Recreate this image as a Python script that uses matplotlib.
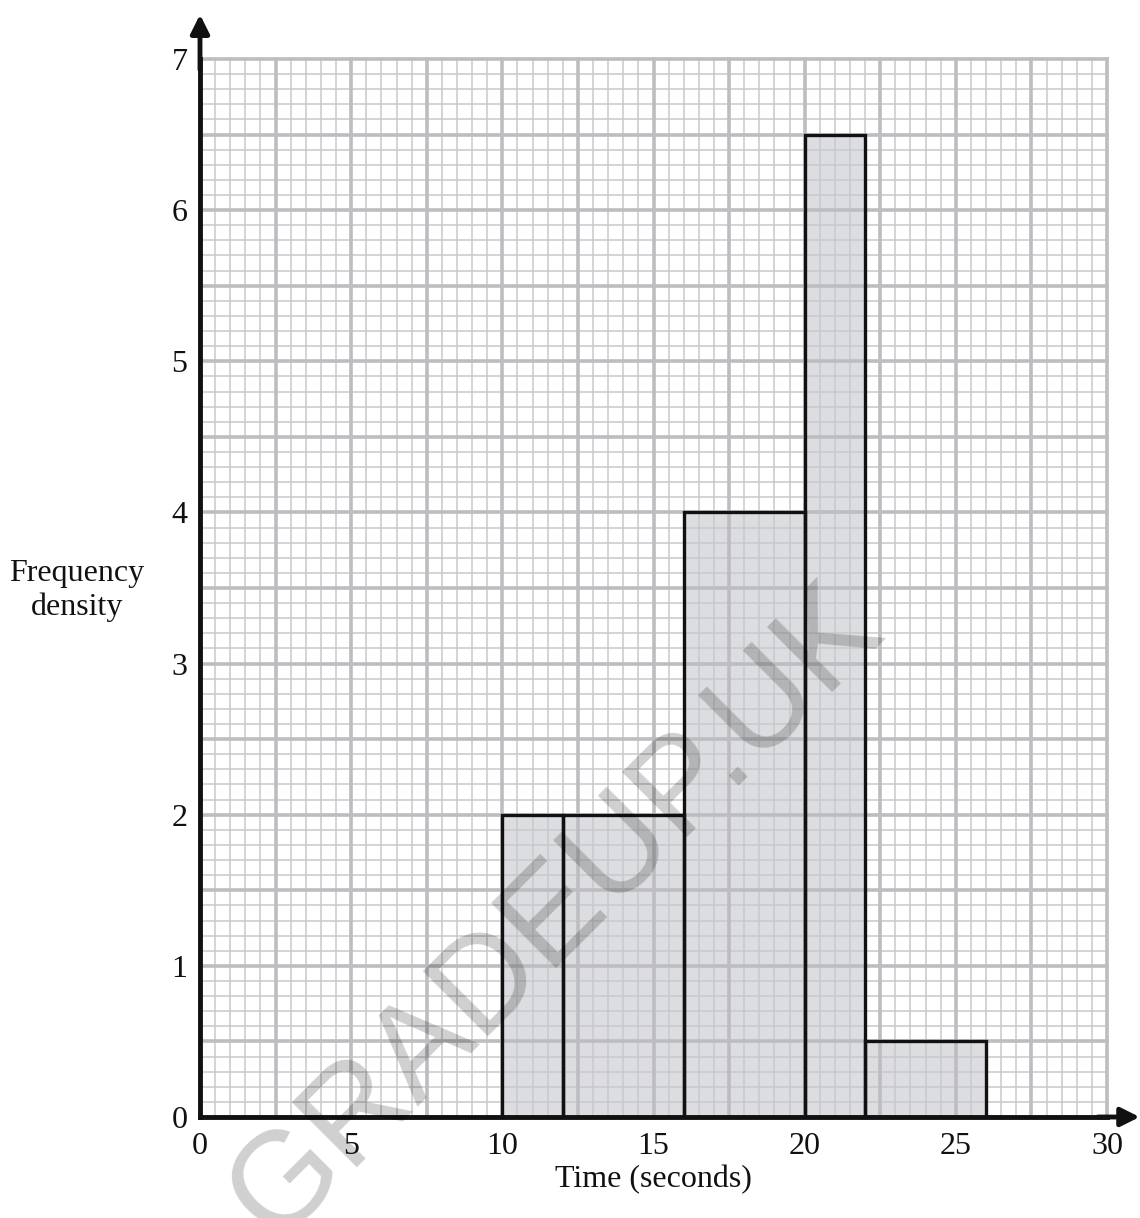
import numpy as np
import matplotlib
matplotlib.use('Agg')
import matplotlib.pyplot as plt

# histogram data
edges = [10, 12, 16, 20, 22, 26]
heights = [2, 2, 4, 6.5, 0.5]
xticks = [0, 5, 10, 15, 20, 25, 30]
yticks = [0, 1, 2, 3, 4, 5, 6, 7]

serif = ['Liberation Serif', 'DejaVu Serif']

fig = plt.figure(figsize=(11.4, 12.18), dpi=100)
ax = fig.add_axes([200/1140, 1-1117/1218, 907/1140, 1058/1218])
ax.set_xlim(0, 30)
ax.set_ylim(0, 7)

''' graph paper grid '''
minor_c = '#c9c9cd'
major_c = '#bcbcc1'
for x in np.arange(0, 30.01, 0.5):
    major = abs(x/2.5 - round(x/2.5)) < 1e-6
    ax.axvline(x, color=major_c if major else minor_c, lw=2.6 if major else 1.1,
               zorder=1 + major, clip_on=False)
for y in np.arange(0, 7.001, 0.1):
    major = abs(y/0.5 - round(y/0.5)) < 1e-6
    ax.axhline(y, color=major_c if major else minor_c, lw=2.6 if major else 1.1,
               zorder=1 + major, clip_on=False)

''' bars: fill under the grid, outline on top '''
lefts = edges[:-1]
widths = np.diff(edges)
ax.bar(lefts, heights, width=widths, align='edge', color='#dcdde0', lw=0, zorder=0.5)
ax.bar(lefts, heights, width=widths, align='edge', fill=False, edgecolor='#111111',
       lw=2.4, zorder=4)

''' axes with arrows '''
for s in ['top', 'right']:
    ax.spines[s].set_visible(False)
for s in ['left', 'bottom']:
    ax.spines[s].set_linewidth(3.5)
    ax.spines[s].set_color('#111111')
    ax.spines[s].set_zorder(5)
ax.annotate('', xy=(0, 1.042), xytext=(0, 0.99), xycoords='axes fraction',
            arrowprops=dict(arrowstyle='-|>', color='#111111', lw=3.5,
                            mutation_scale=28, shrinkA=0, shrinkB=0), zorder=6)
ax.annotate('', xy=(1.036, 0), xytext=(0.99, 0), xycoords='axes fraction',
            arrowprops=dict(arrowstyle='-|>', color='#111111', lw=3.5,
                            mutation_scale=28, shrinkA=0, shrinkB=0), zorder=6)

ax.set_xticks(xticks)
ax.set_yticks(yticks)
ax.tick_params(length=0, labelsize=23, pad=9)
ax.tick_params(axis='x', pad=11)
for lab in ax.get_xticklabels() + ax.get_yticklabels():
    lab.set_family(serif)
    lab.set_color('#111111')

fig.text(77/1140, 1-573/1218, 'Frequency', ha='center', va='center',
         fontsize=23, family=serif, color='#111111')
fig.text(77/1140, 1-607/1218, 'density', ha='center', va='center',
         fontsize=23, family=serif, color='#111111')
fig.text(653/1140, 1-1180/1218, 'Time (seconds)', ha='center', va='center',
         fontsize=23, family=serif, color='#111111')

# watermark
fig.text(580/1140, 1-937/1218, 'GRADEUP.UK', rotation=45, ha='center', va='baseline',
         rotation_mode='anchor', fontsize=96, family=['Liberation Sans', 'DejaVu Sans'],
         color='black', alpha=0.19, zorder=10)

fig.savefig('out.png', dpi=100)
